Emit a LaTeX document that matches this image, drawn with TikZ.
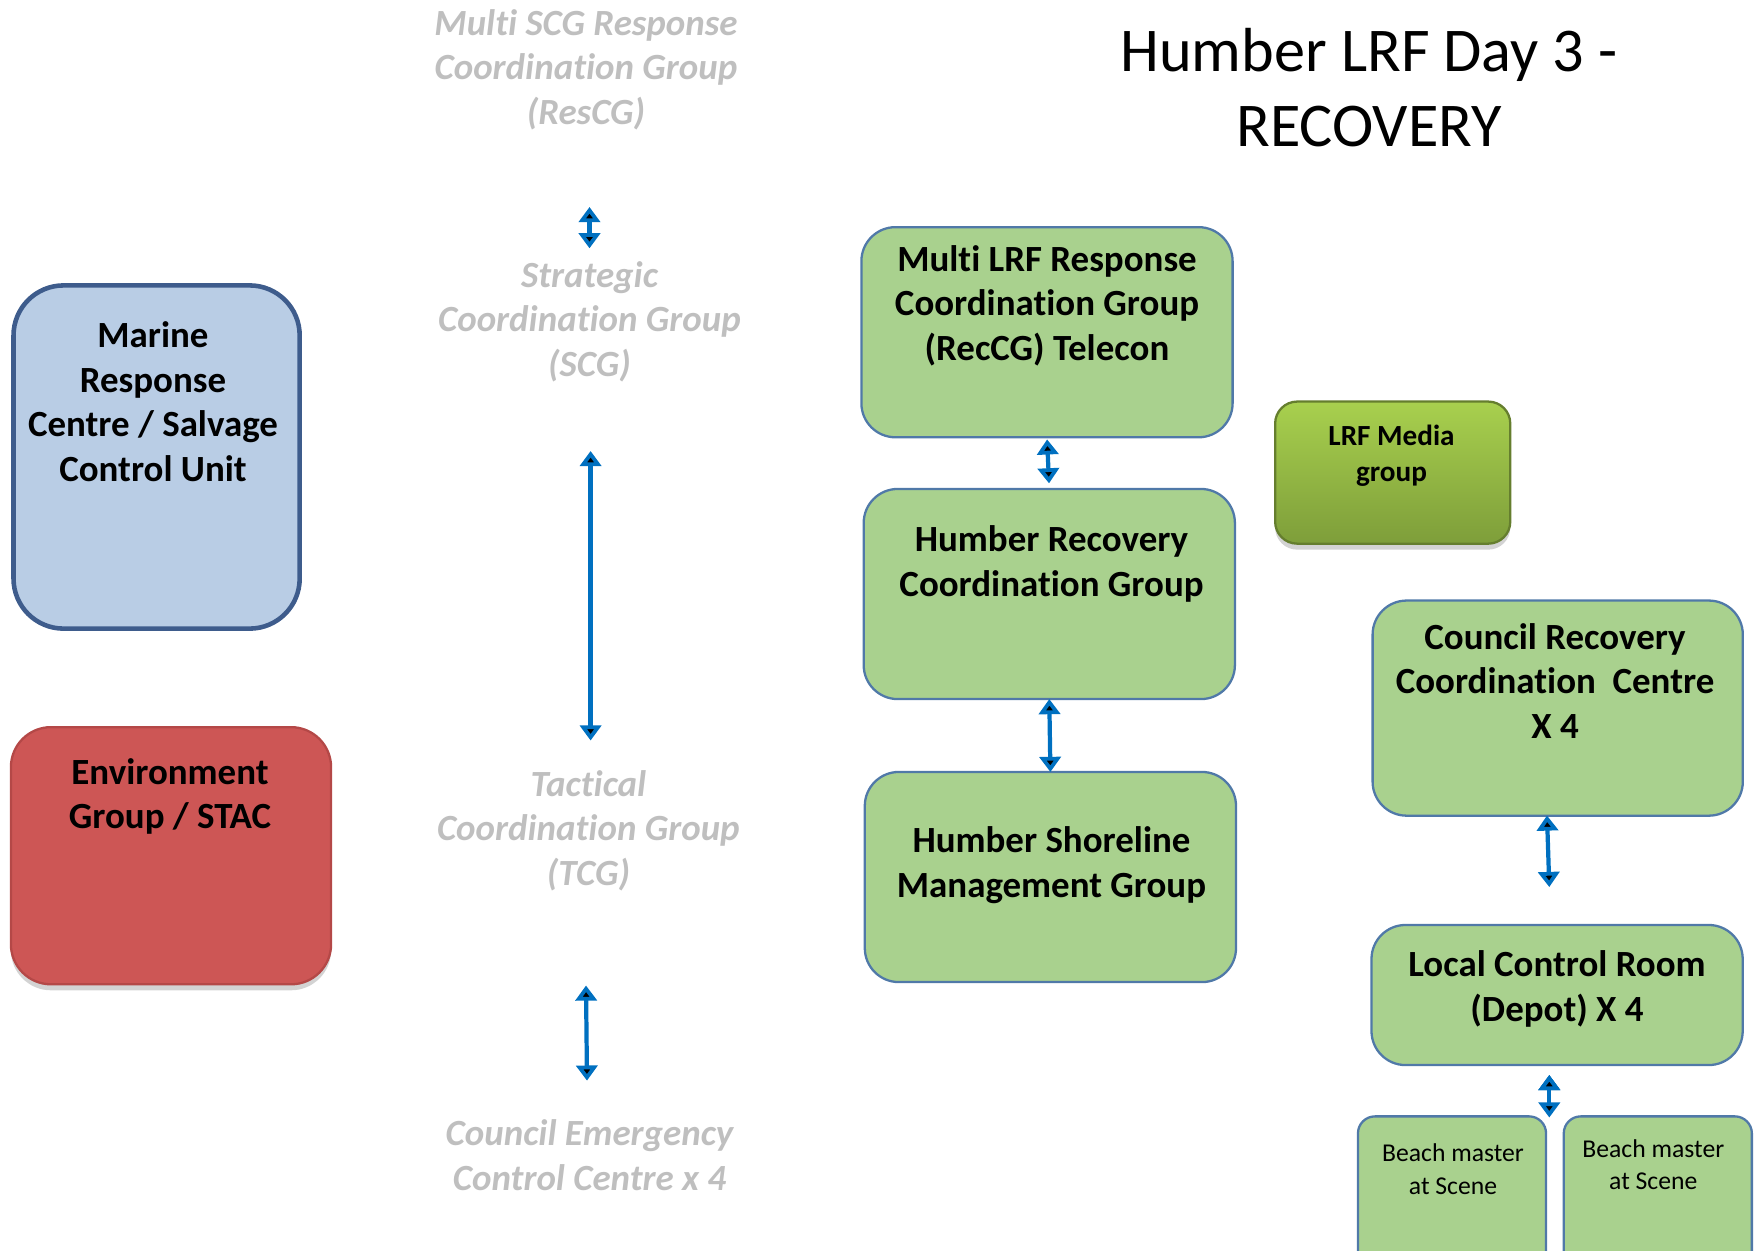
\documentclass[tikz,border=0pt]{standalone}
\usepackage{fontspec}
\setmainfont{Carlito}[Ligatures=NoCommon]
\usetikzlibrary{arrows.meta,shadows,positioning}
\definecolor{grpgreen}{RGB}{169,209,142}
\definecolor{grpline}{RGB}{80,121,168}
\definecolor{marinefill}{RGB}{185,205,229}
\definecolor{marineline}{RGB}{62,92,140}
\definecolor{envfill}{RGB}{205,86,85}
\definecolor{envline}{RGB}{180,72,71}
\definecolor{mediatop}{RGB}{168,208,78}
\definecolor{mediabot}{RGB}{126,158,58}
\definecolor{greytext}{RGB}{191,191,191}
\definecolor{linkblue}{RGB}{0,112,192}

\begin{document}
\begin{tikzpicture}[x=0.01cm, y=-0.01cm,
  box/.style={rounded corners=0.34cm, draw=grpline, line width=0.65pt, fill=grpgreen, inner sep=0pt, outer sep=0pt},
  grp node/.style={box, minimum width=3.71cm, minimum height=2.10cm},
  txt/.style={align=center, inner sep=0pt, font=\bfseries\fontsize{10.5}{12.7}\selectfont},
  grey/.style={align=center, inner sep=0pt, text=greytext, font=\bfseries\itshape\fontsize{10.5}{12.7}\selectfont},
  link/.style={draw=linkblue, line width=1.2pt, {Triangle[width=6pt,length=4.3pt]}-{Triangle[width=6pt,length=4.3pt]}}]
\useasboundingbox (0,0) rectangle (1754,1250);
\clip (0,0) rectangle (1754,1250);

% left hand boxes
\node[box, draw=marineline, fill=marinefill, line width=1.3pt, rounded corners=0.5cm,
      minimum width=2.86cm, minimum height=3.43cm] (mrc) at (156.6,457) {};
\node[txt] (mrc-t) at (153,401.5) {Marine\\Response\\Centre / Salvage\\Control Unit};
\node[box, draw=envline, fill=envfill, rounded corners=0.4cm, minimum width=3.2cm, minimum height=2.57cm,
      drop shadow={opacity=0.35, shadow xshift=0pt, shadow yshift=-0.06cm}] (env) at (171,855.7) {};
\node[txt] (env-t) at (170,796.5) {Environment\\Group / STAC};

% response chain, greyed out
\node[grey] (rescg) at (586,69.5) {Multi SCG Response\\Coordination Group\\(ResCG)};
\node[grey] (scg) at (589.5,321.5) {Strategic\\Coordination Group\\(SCG)};
\node[grey] (tcg) at (588.4,830.5) {Tactical\\Coordination Group\\(TCG)};
\node[grey] (cecc) at (589.5,1155) {Council Emergency\\Control Centre x 4};
\coordinate (a1t) at (589.5,207);
\coordinate (a1b) at (589.5,248.3);
\coordinate (a2t) at (590.6,451);
\coordinate (a2b) at (590.6,740.5);
\coordinate (a3t) at (586,985.5);
\coordinate (a3b) at (587,1080.6);

% title
\node[align=center, inner sep=0pt, font=\fontsize{17.7}{21.3}\selectfont] (title) at (1369,87.5) {Humber LRF Day 3 -\\RECOVERY};

% recovery groups
\node[grp node] (mlrf) at (1047,332.2) {};
\node[txt] (mlrf-t) at (1047,305.5) {Multi LRF Response\\Coordination Group\\(RecCG) Telecon};
\node[grp node] (hrcg) at (1049.3,594) {};
\node[txt] (hrcg-t) at (1051.5,564) {Humber Recovery\\Coordination Group};
\node[grp node] (hsmg) at (1050.4,877) {};
\node[txt] (hsmg-t) at (1051.5,865) {Humber Shoreline\\Management Group};
\node[box, draw=mediabot!80!black, top color=mediatop, bottom color=mediabot, rounded corners=0.22cm,
      minimum width=2.35cm, minimum height=1.42cm,
      drop shadow={opacity=0.35, shadow xshift=0pt, shadow yshift=-0.06cm}] (media) at (1392.7,472.6) {};
\node[txt, font=\bfseries\fontsize{8.3}{10.2}\selectfont] (media-t) at (1391.5,455.5) {LRF Media\\group};

% council side
\node[box, minimum width=3.70cm, minimum height=2.15cm] (crcc) at (1557.7,708.1) {};
\node[txt] (crcc-t) at (1555,681) {Council Recovery\\Coordination~~Centre\\X 4};
\node[box, minimum width=3.71cm, minimum height=1.40cm] (lcr) at (1557.1,995) {};
\node[txt] (lcr-t) at (1557,989) {Local Control Room\\(Depot) X 4};
\node[box, rounded corners=0.17cm, minimum width=1.88cm, minimum height=1.6cm] (beach1) at (1452,1196.4) {};
\node[align=center, inner sep=0pt, font=\fontsize{7.3}{9.2}\selectfont] (beach1-t) at (1453,1169) {Beach master\\at Scene};
\node[box, rounded corners=0.17cm, minimum width=1.88cm, minimum height=1.6cm] (beach2) at (1657.8,1196.4) {};
\node[align=center, inner sep=0pt, font=\fontsize{7.3}{9.2}\selectfont] (beach2-t) at (1653.3,1164.5) {Beach master\\at Scene};
\coordinate (a6t) at (1547,815.5);
\coordinate (a6b) at (1549.3,887);
\coordinate (a7t) at (1549.3,1075);
\coordinate (a7b) at (1549.3,1117.5);

\path[link]
(a1t) edge (a1b)
(a2t) edge (a2b)
(a3t) edge (a3b)
(mlrf.south) edge[shorten <=0.6pt, shorten >=1.6pt] (hrcg.north)
(hrcg.south) edge (hsmg.north)
(a6t) edge (a6b)
(a7t) edge (a7b);
\end{tikzpicture}
\end{document}
